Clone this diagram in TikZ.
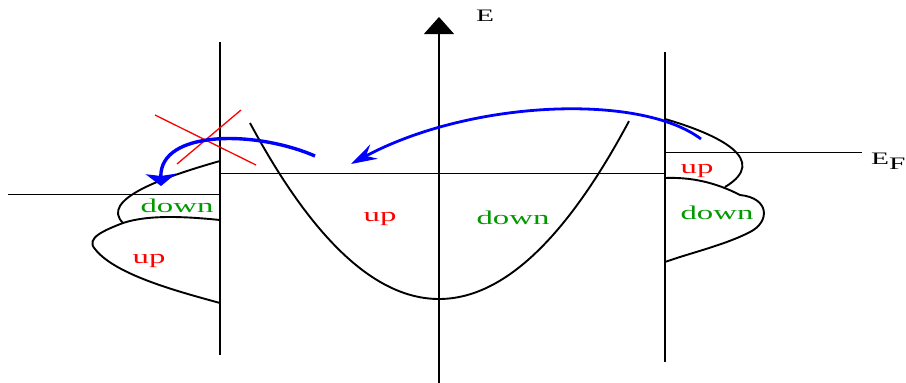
\documentclass[tikz,border=0pt]{standalone}
\usepackage{fontspec}
\setmainfont{Liberation Serif}
\usetikzlibrary{arrows.meta}

\tikzset{
  band/.style={line width=1.9pt},
  level/.style={line width=0.8pt},
  hop/.style={draw=blue, line width=2.8pt},
  lbl/.style={inner sep=0pt, anchor=base, font=\fontsize{19.5}{20}\selectfont},
  axlbl/.style={inner sep=0pt, anchor=base, font=\fontsize{17.5}{18}\selectfont},
}
\newcommand{\wide}[1]{\scalebox{1.68}[1]{#1}}

\begin{document}
\begin{tikzpicture}[x=1pt,y=-1pt]
\useasboundingbox (0,0) rectangle (906,383);
% axes
\draw[line width=1.2pt] (220,42) -- (220,355);
\draw[line width=1.2pt] (665,52) -- (665,362);
\draw[line width=1.2pt, -{Triangle[width=30pt,length=17pt]}] (439,383) -- (439,17);
\node[axlbl] (E) at (485,21) {\wide{E}};

% Fermi levels
\draw[level] (8,194) -- (220,194);
\draw[level] (220,173) -- (665,173);
\draw[level] (665,152) -- (862,152);
\node[axlbl, anchor=base west] (EF) at (871,164) {\wide{E}\raisebox{-5pt}{\wide{F}}};

% free electron band
\draw[band, domain=-1.89:1.90, samples=80] plot ({439+100*\x}, {299-49.27*\x*\x});

% left DOS
\draw[band] (220,161) .. controls (160,178) and (100,200) .. (123,223);
\draw[band] (123,223) .. controls (150,214) and (190,217) .. (220,220);
\draw[band] (123,223) .. controls (105,230) and (85,238) .. (95,249)
  .. controls (115,275) and (180,292) .. (220,303);

% right DOS
\draw[band] (665,119) .. controls (720,135) and (770,160) .. (725,187);
\draw[band] (665,178) .. controls (690,177) and (715,182) .. (740,195)
  .. controls (770,198) and (770,222) .. (750,232)
  .. controls (725,245) and (690,253) .. (665,262);

% labels
\node[lbl, text=red] (upM) at (380,221) {\wide{up}};
\node[lbl, text=green!60!black] (downM) at (513,224) {\wide{down}};
\node[lbl, text=green!60!black] (downL) at (177,212) {\wide{down}};
\node[lbl, text=red] (upL) at (149,263) {\wide{up}};
\node[lbl, text=red] (upR) at (697,173) {\wide{up}};
\node[lbl, text=green!60!black] (downR) at (717,219) {\wide{down}};

% blocked transfer
\draw[red, line width=1.3pt] (155,115) -- (256,165);
\draw[red, line width=1.3pt] (241,110) -- (177,164);
\coordinate (a1) at (315,156);
\coordinate (a2) at (161,186);
\draw[hop, line width=3.4pt, -{Stealth[width=30pt,length=12pt,inset=2pt]}] (a1) .. controls (255,130) and (160,130) .. (a2);

% allowed transfer
\coordinate (b1) at (701,139);
\coordinate (b2) at (351,164);
\draw[hop, -{Stealth[width=16pt,length=26pt,inset=9pt]}] (b1) .. controls (640,93) and (470,100) .. (b2);
\end{tikzpicture}
\end{document}
